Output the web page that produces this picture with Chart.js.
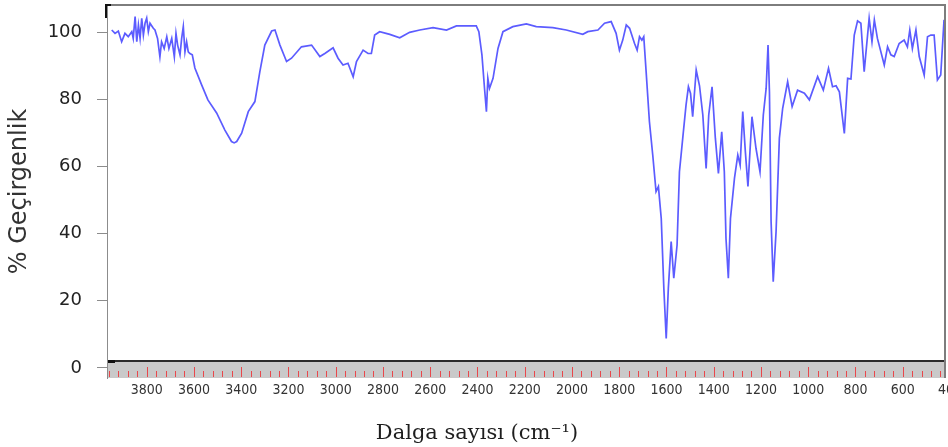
<!DOCTYPE html>
<html>
<head>
<meta charset="utf-8">
<script src="https://cdn.jsdelivr.net/npm/chart.js@4.4.0/dist/chart.umd.min.js"></script>
<style>
  html, body { margin: 0; padding: 0; background: #ffffff; overflow: hidden; }
  canvas { display: block; }
</style>
</head>
<body>
<canvas id="spectrum" width="948" height="447"></canvas>
<script>
// FT-IR spectrum: wavenumber (cm-1) vs. % transmittance
const wavenumbers = [
  3948, 3934, 3920, 3906, 3892, 3878, 3863, 3857, 3849, 3842, 3835, 3828, 3821, 3814, 3807, 3800,
  3793, 3786, 3772, 3765, 3754, 3744, 3737, 3726, 3715, 3706, 3694, 3683, 3676, 3669, 3659, 3652,
  3645, 3638, 3631, 3624, 3617, 3607, 3596, 3567, 3541, 3504, 3469, 3441, 3430, 3419, 3398, 3370,
  3342, 3321, 3300, 3271, 3257, 3236, 3208, 3187, 3145, 3102, 3067, 3046, 3011, 2990, 2969, 2948,
  2926, 2912, 2884, 2863, 2849, 2835, 2814, 2771, 2729, 2687, 2644, 2588, 2531, 2489, 2405, 2394,
  2381, 2370, 2362, 2356, 2349, 2334, 2313, 2292, 2250, 2193, 2151, 2081, 2024, 1954, 1933, 1890,
  1862, 1834, 1813, 1799, 1785, 1770, 1756, 1735, 1724, 1714, 1704, 1696, 1686, 1672, 1658, 1644,
  1634, 1622, 1611, 1601, 1592, 1580, 1569, 1555, 1545, 1531, 1517, 1507, 1498, 1489, 1474, 1460,
  1446, 1432, 1421, 1407, 1393, 1380, 1366, 1355, 1348, 1338, 1329, 1312, 1298, 1288, 1277, 1266,
  1255, 1238, 1221, 1204, 1190, 1178, 1170, 1164, 1157, 1148, 1136, 1122, 1108, 1087, 1068, 1045,
  1016, 995, 960, 936, 914, 897, 882, 868, 847, 833, 819, 805, 791, 777, 763, 742,
  730, 720, 707, 678, 664, 650, 636, 615, 594, 580, 570, 559, 544, 530, 509, 495,
  481, 467, 453, 439, 425
];

const transmittance = [
  100.6, 99.6, 100.3, 97.1, 99.6, 98.6, 100.1, 98.1, 104.6, 97.1, 102.1, 98.1, 104.1, 99.1, 102.6, 104.1,
  100.1, 102.6, 101.1, 100.6, 98.1, 92.6, 97.1, 95.1, 98.6, 95.1, 98.1, 92.6, 99.6, 96.1, 93.2, 98.1,
  101.6, 94.1, 97.1, 94.1, 93.6, 93.2, 89.3, 84.2, 79.8, 75.9, 70.8, 67.4, 67.0, 67.4, 69.9, 76.3,
  79.3, 88.2, 96.1, 100.3, 100.6, 96.1, 91.2, 92.2, 95.6, 96.1, 92.7, 93.6, 95.3, 92.2, 90.2, 90.7,
  86.7, 91.2, 94.6, 93.6, 93.6, 99.1, 100.1, 99.3, 98.3, 99.9, 100.6, 101.3, 100.6, 101.8, 101.8, 100.1,
  93.2, 83.2, 76.3, 86.2, 83.2, 86.2, 95.1, 100.1, 101.6, 102.4, 101.6, 101.3, 100.6, 99.3, 100.1, 100.6,
  102.6, 103.1, 99.6, 94.6, 97.6, 102.1, 101.1, 96.6, 94.6, 98.6, 97.6, 98.6, 88.2, 73.3, 63.4, 52.5,
  54.0, 44.5, 23.7, 8.8, 23.7, 37.6, 26.7, 36.6, 58.4, 68.4, 78.3, 83.7, 81.7, 74.8, 88.7, 84.0,
  75.3, 59.4, 75.3, 83.7, 68.4, 57.9, 70.3, 58.4, 38.6, 26.7, 44.5, 56.5, 63.4, 60.4, 76.3, 64.4,
  54.0, 74.8, 65.4, 58.4, 75.3, 83.2, 96.1, 82.2, 43.5, 25.7, 40.6, 68.4, 77.3, 85.2, 77.8, 82.7,
  81.8, 79.8, 86.7, 82.7, 89.2, 83.7, 84.0, 82.2, 69.8, 86.2, 86.0, 99.1, 103.3, 102.6, 88.2, 104.1,
  97.1, 103.6, 98.1, 90.2, 95.6, 93.2, 92.7, 96.6, 97.6, 95.6, 100.6, 95.1, 100.6, 92.7, 87.2, 98.6,
  99.1, 99.1, 85.7, 87.2, 103.6
];

const xTickValues = [3800, 3600, 3400, 3200, 3000, 2800, 2600, 2400, 2200, 2000, 1800, 1600, 1400, 1200, 1000, 800, 600, 400];
const yTickValues = [0, 20, 40, 60, 80, 100];

const xAxisTitle = 'Dalga sayısı (cm⁻¹)';
const yAxisTitle = '% Geçirgenlik';

// Frame, grey axis strip with red tick marks along the bottom of the plot
const framePlugin = {
  id: 'frame',
  afterDraw(chart) {
    const { ctx, chartArea: a, scales: { x } } = chart;
    ctx.save();

    // axis strip
    const stripTop = a.bottom - 17;
    ctx.fillStyle = '#c9c9c9';
    ctx.fillRect(a.left + 1, stripTop, a.right - a.left - 1, a.bottom - stripTop);
    ctx.fillStyle = '#2a2a2a';
    ctx.fillRect(a.left + 1, stripTop - 1, a.right - a.left - 1, 2);

    // red tick marks every 40 cm-1, taller every 200 cm-1
    ctx.fillStyle = '#e8474b';
    const lo = Math.ceil(Math.min(x.min, x.max) / 40) * 40;
    const hi = Math.max(x.min, x.max);
    for (let w = lo; w <= hi; w += 40) {
      const px = Math.round(x.getPixelForValue(w));
      const len = (w % 200 === 0) ? 10 : 6;
      ctx.fillRect(px, a.bottom - 1 - len, 1, len);
    }

    // outer frame
    ctx.fillStyle = '#7d7d7d';
    ctx.fillRect(a.left - 1, a.top - 1, a.right - a.left + 1, 2);
    ctx.fillRect(a.right - 2, a.top - 1, 2, a.bottom - a.top + 1);
    ctx.fillStyle = '#111111';
    ctx.fillRect(a.left - 2, a.top - 1, 2, 14);
    ctx.fillRect(a.left - 2, a.top - 1, 6, 2);
    ctx.fillRect(a.left + 1, stripTop - 1, 7, 3);
    ctx.restore();
  }
};

const ctx = document.getElementById('spectrum').getContext('2d');
new Chart(ctx, {
  type: 'line',
  data: {
    datasets: [{
      data: wavenumbers.map((w, i) => ({ x: w, y: transmittance[i] })),
      borderColor: '#5c5cff',
      borderWidth: 1.7,
      pointRadius: 0,
      tension: 0,
      fill: false
    }]
  },
  options: {
    responsive: false,
    animation: false,
    devicePixelRatio: 1,
    layout: { padding: { top: 5, right: 2, left: 8, bottom: 0 } },
    plugins: {
      legend: { display: false },
      tooltip: { enabled: false },
      title: {
        display: true,
        position: 'bottom',
        text: xAxisTitle,
        color: '#1e1e1e',
        font: { family: "'DejaVu Serif', 'Liberation Serif', serif", size: 21, weight: 'normal', lineHeight: 1.2 },
        padding: { top: 0, bottom: 1 }
      }
    },
    scales: {
      x: {
        type: 'linear',
        reverse: true,
        min: 416.7,
        max: 3968,
        afterBuildTicks: s => { s.ticks = xTickValues.map(v => ({ value: v })); },
        afterFit: s => { s.height = 447 - 378 - 26.2; s.paddingLeft = 0; s.paddingRight = 0; },
        grid: { display: false, drawTicks: false },
        border: { display: false },
        ticks: {
          autoSkip: false,
          maxRotation: 0,
          minRotation: 0,
          padding: 4,
          color: '#333333',
          font: { family: "'Liberation Sans Narrow', 'DejaVu Sans Condensed', sans-serif", size: 14 },
          callback: v => String(v)
        }
      },
      y: {
        type: 'linear',
        min: -2.98,
        max: 108.04,
        afterBuildTicks: s => { s.ticks = yTickValues.map(v => ({ value: v })); },
        afterFit: s => { s.width = 99; s.paddingTop = 0; s.paddingBottom = 0; },
        grid: { drawOnChartArea: false, drawTicks: true, tickLength: 10, color: '#8c8c8c', lineWidth: 1 },
        border: { display: true, color: '#8c8c8c', width: 1 },
        ticks: {
          padding: 15,
          color: '#222222',
          font: { family: "'DejaVu Sans', sans-serif", size: 18 },
          callback: v => String(v)
        },
        title: {
          display: true,
          text: yAxisTitle,
          color: '#333333',
          font: { family: "'DejaVu Sans', sans-serif", size: 24, lineHeight: 1 },
          padding: { top: 0, bottom: 0 }
        }
      }
    }
  },
  plugins: [framePlugin]
});
</script>
</body>
</html>
